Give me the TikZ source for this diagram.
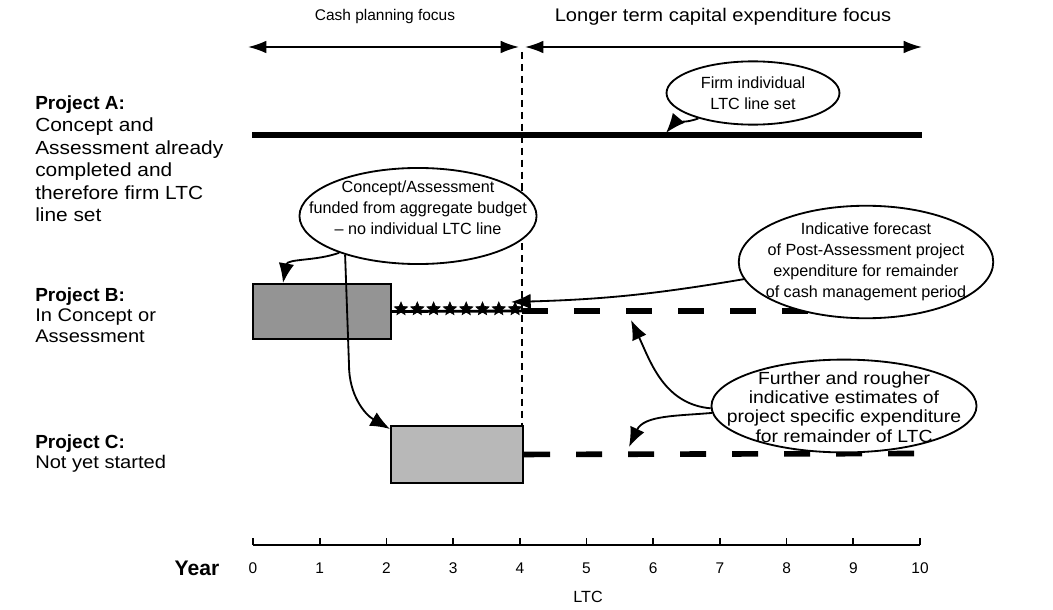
\documentclass[tikz,border=0pt]{standalone}
\usepackage{fontspec}
\setmainfont{Liberation Sans}
\newfontfamily\widesans{Liberation Sans}[FakeStretch=1.1]
\usetikzlibrary{shapes.geometric,arrows.meta}
\begin{document}
\begin{tikzpicture}[x=0.025cm,y=-0.025cm,
  bubble/.style={draw,ellipse,line width=1.3pt,fill=white,inner sep=0pt},
  btext/.style={align=center,font=\fontsize{11.5}{14.8}\selectfont,inner sep=0pt},
  ptext/.style={align=left,anchor=north west,inner sep=0pt},
  arr/.style={line width=1.3pt,-{Latex[length=14pt,width=11pt]}},
  span/.style={line width=1.3pt,{Latex[length=13pt,width=9pt]}-{Latex[length=13pt,width=9pt]}},
  ltc/.style={line width=4pt,dash pattern=on 18.5pt off 18.5pt},
  stagebox/.style={draw,line width=1.4pt,inner sep=0pt,anchor=north west},
  starmark/.style={star,star points=5,star point ratio=2.2,fill,draw,inner sep=0pt,minimum size=10pt},
  yearlabel/.style={font=\fontsize{11}{13}\selectfont,inner sep=0pt}
]
\useasboundingbox (0,0) rectangle (1053,610);

% focus periods
\coordinate (L0) at (248,47);
\coordinate (L1) at (519,47);
\coordinate (R0) at (525,47);
\coordinate (R1) at (922,47);
\draw[span] (L0) -- (L1);
\draw[span] (R0) -- (R1);
\node[font=\fontsize{11}{13}\selectfont,inner sep=0pt] (cashlbl) at (385,17) {Cash planning focus};
\node[font=\widesans\fontsize{13}{15}\selectfont,inner sep=0pt] (longlbl) at (723,17) {Longer term capital expenditure focus};

% end of cash management period
\coordinate (v4top) at (522,52);
\coordinate (v4bot) at (522,425);
\draw[line width=1pt,dash pattern=on 5pt off 3.5pt] (v4top) -- (v4bot);

% project labels
\node[ptext,font=\widesans\fontsize{13.5}{16}\selectfont] (labA) at (35,95)
  {{\setmainfont{Liberation Sans}\bfseries Project A:}\\Concept and\\Assessment already\\completed and\\therefore firm LTC\\line set};
\node[ptext,font=\widesans\fontsize{13}{14.8}\selectfont] (labB) at (35,287)
  {{\setmainfont{Liberation Sans}\fontsize{13.5}{14.8}\selectfont\bfseries Project B:}\\In Concept or\\Assessment};
\node[ptext,font=\widesans\fontsize{13}{14.8}\selectfont] (labC) at (35,434)
  {{\setmainfont{Liberation Sans}\fontsize{13.5}{14.8}\selectfont\bfseries Project C:}\\Not yet started};

% project A: firm LTC line
\coordinate (A0) at (252,135);
\coordinate (A1) at (922,135);
\draw[line width=3.6pt] (A0) -- (A1);

% project B
\node[stagebox,fill=black!42,minimum width=98.2pt,minimum height=39.1pt] (boxB) at (252,283) {};
\coordinate (B4) at (522,311);
\coordinate (B10) at (922,311);
\draw[line width=2pt] (boxB.east) -- (B4);
\foreach \i in {0,...,7}
  \node[starmark] (st\i) at (401+16.3*\i,309) {};
\draw[ltc] (B4) -- (B10);

% project C
\node[stagebox,fill=black!28,minimum width=93.9pt,minimum height=40.5pt] (boxC) at (390,425) {};
\coordinate (C10) at (922,453.5);
\draw[ltc] (boxC.east) -- (C10);

% year axis
\coordinate (X0) at (253,545);
\coordinate (X10) at (920,545);
\draw[line width=1.4pt] (X0) -- (X10);
\foreach \i in {0,...,10} {
  \draw[line width=1.2pt] (253+66.7*\i,545) -- (253+66.7*\i,538);
  \node[yearlabel] (yr\i) at (253+66.7*\i,568) {\i};
}
\node[font=\fontsize{15}{17}\selectfont\bfseries,inner sep=0pt] (yearlbl) at (197,568) {Year};
\node[font=\fontsize{11.5}{13}\selectfont,inner sep=0pt] (ltclbl) at (588,597) {LTC};

% callouts
\node[bubble,minimum width=123pt,minimum height=45pt] (e1) at (753,93) {};
\node[btext] (t1) at (e1) {Firm individual\\LTC line set};

\node[bubble,minimum width=168.6pt,minimum height=68.3pt] (e2) at (418,216) {};
\node[btext] (t2) at (418,208) {Concept/Assessment\\funded from aggregate budget\\– no individual LTC line};

\node[bubble,minimum width=181pt,minimum height=80pt] (e3) at (866,262) {};
\node[btext] (t3) at (e3) {Indicative forecast\\of Post-Assessment project\\expenditure for remainder\\of cash management period};

\node[bubble,minimum width=188.5pt,minimum height=66pt] (e4) at (844,406) {};
\node[btext,font=\widesans\fontsize{12.5}{13.8}\selectfont] (t4) at (844,407) {Further and rougher\\indicative estimates of\\project specific expenditure\\for remainder of LTC};

% callout pointers
\coordinate (tipA) at (666,133);
\coordinate (tipB) at (283,283);
\coordinate (bendC) at (349,365);
\coordinate (tipC) at (390,429);
\coordinate (tipStar) at (511,302);
\coordinate (tipD1) at (631,320);
\coordinate (tipD2) at (629,447);

\draw[arr] (e1.205) to[out=200,in=50] (tipA);
\draw[arr] (e2.205) to[out=200,in=80] (tipB);
\draw[arr] (e2.208) -- (bendC) to[out=-90,in=150] (tipC);
\draw[arr] (e3.188) to[bend left=4] (tipStar);
\draw[arr] (e4.181) to[out=175,in=-65] (tipD1);
\draw[arr] (e4.183) to[out=185,in=65] (tipD2);
\end{tikzpicture}
\end{document}
